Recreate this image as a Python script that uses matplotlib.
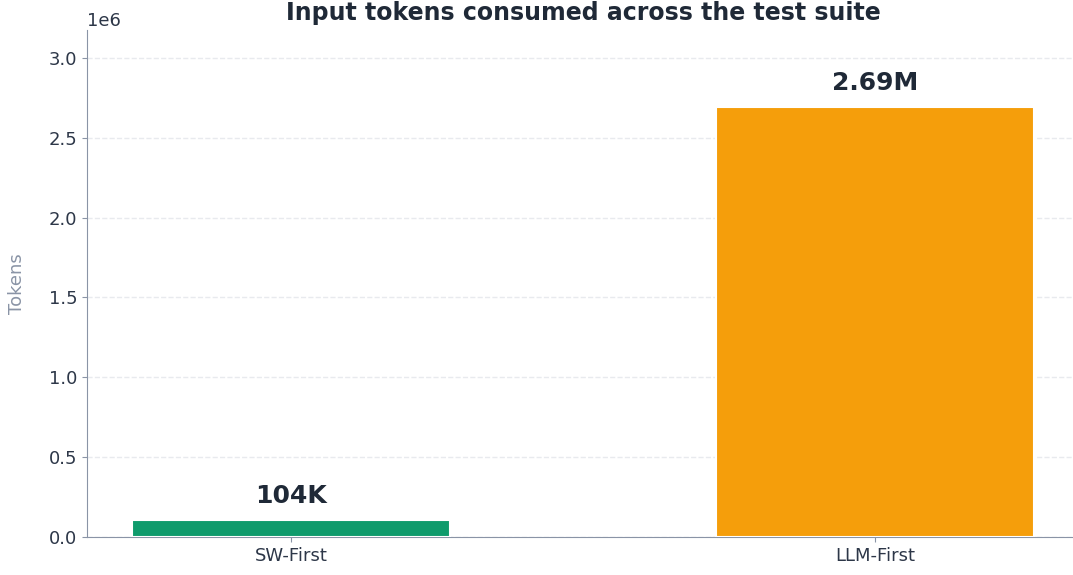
import matplotlib
matplotlib.use('Agg')
import matplotlib.pyplot as plt

categories = ['SW-First', 'LLM-First']
tokens = [104000, 2690000]
labels = ['104K', '2.69M']
colors = ['#0f9b6c', '#f59e0b']

fig = plt.figure(figsize=(10.73, 5.75), dpi=100)
ax = fig.add_axes([0.081, 0.066, 0.925, 0.882])

x = range(len(categories))
ax.bar(x, tokens, width=0.545, color=colors, edgecolor='white', linewidth=1.5, zorder=3)
for xi, v, lab in zip(x, tokens, labels):
    ax.annotate(lab, (xi, v), xytext=(0, 9), textcoords='offset points',
                ha='center', va='bottom', fontsize=18, fontweight='bold', color='#1f2937')

ax.set_xticks(list(x))
ax.set_xticklabels(categories)
ax.set_xlim(-0.35, 1.35)
ax.set_ylim(0, max(tokens) * 1.18)
ax.set_ylabel('Tokens', fontsize=13, color='#8a94a6', labelpad=16)
ax.set_title('Input tokens consumed across the test suite', fontsize=17,
             fontweight='bold', color='#1f2937', pad=7)

ax.tick_params(axis='both', labelsize=13, colors='#8a94a6', labelcolor='#2d3748')
ax.yaxis.get_offset_text().set_fontsize(13)
ax.yaxis.get_offset_text().set_color('#2d3748')
ax.grid(axis='y', linestyle='--', color='#e8eaee', linewidth=1, zorder=0)
for s in ['top', 'right']:
    ax.spines[s].set_visible(False)
for s in ['left', 'bottom']:
    ax.spines[s].set_color('#8a94a6')

fig.savefig('out.png', dpi=100)
